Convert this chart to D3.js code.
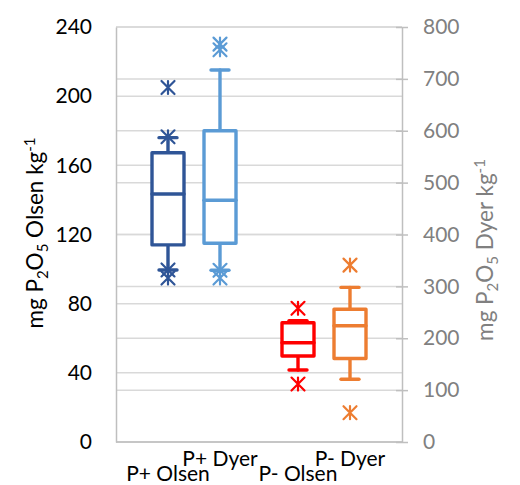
<!DOCTYPE html>
<html>
<head>
<meta charset="utf-8">
<script src="https://cdn.jsdelivr.net/npm/d3@7"></script>
<style>
  html, body { margin:0; padding:0; background:#fff; }
  svg text { font-family: Lato, "Open Sans", sans-serif; }
</style>
</head>
<body>
<svg id="chart" width="520" height="485"></svg>
<script>
// ───── DATA ─────
const groups = ["P+", "P-"];
const methods = ["Olsen", "Dyer"];
const categories = ["P+ Olsen", "P+ Dyer", "P- Olsen", "P- Dyer"];
const axisOf = ["left", "right", "left", "right"];
const q1 = [114, 383, 49.7, 161];
const median = [143.4, 466, 57.4, 224];
const q3 = [167.3, 600, 69, 256];
const whiskerLow = [99.5, 331, 41.6, 121];
const whiskerHigh = [176, 717, 70.2, 298];
const outliers = [
  [205, 176.5, 99.5, 94.8],
  [767, 756, 331, 316],
  [77.3, 33.5],
  [341, 56.5]
];
const leftTicks = [0, 40, 80, 120, 160, 200, 240];
const rightTicks = [0, 100, 200, 300, 400, 500, 600, 700, 800];

const COLOR = ["#2f5597", "#5b9bd5", "#ff0000", "#ed7d31"];

const plot = { left:116, right:402, top:27, bottom:442 };

const svg = d3.select("#chart");

const yL = d3.scaleLinear().domain([0, 240]).range([plot.bottom, plot.top]);
const yR = d3.scaleLinear().domain([0, 800]).range([plot.bottom, plot.top]);

const xGroup = d3.scaleBand()
  .domain(groups)
  .range([plot.left, plot.right])
  .paddingInner(0.2)
  .paddingOuter(0.2);

const xMethod = d3.scaleBand()
  .domain(methods)
  .range([0, xGroup.bandwidth()]);

const cx = i => {
  const [grp, m] = categories[i].split(" ");
  return xGroup(grp) + xMethod(m) + xMethod.bandwidth() / 2;
};

// ───── GRID ─────
const grid = svg.append("g");
grid.selectAll(".gl")
  .data(leftTicks)
  .join("line")
  .attr("x1", plot.left).attr("x2", plot.right)
  .attr("y1", d => yL(d)).attr("y2", d => yL(d))
  .attr("stroke", "#d9d9d9").attr("stroke-width", 1.5);
grid.selectAll(".gr")
  .data(rightTicks)
  .join("line")
  .attr("x1", plot.left).attr("x2", plot.right)
  .attr("y1", d => yR(d)).attr("y2", d => yR(d))
  .attr("stroke", "#d9d9d9").attr("stroke-width", 1.5);

// ───── AXES ─────
const axisLeft = svg.append("g")
  .attr("transform", `translate(${plot.left},0)`)
  .call(d3.axisLeft(yL).tickValues(leftTicks).tickSize(0).tickPadding(24));
axisLeft.select(".domain").attr("stroke", "#bfbfbf").attr("stroke-width", 1.5);
axisLeft.selectAll("text")
  .attr("font-size", 21).attr("fill", "#000")
  .attr("font-family", "Lato, sans-serif");

const axisRight = svg.append("g")
  .attr("transform", `translate(${plot.right},0)`)
  .call(d3.axisRight(yR).tickValues(rightTicks).tickSizeInner(6).tickSizeOuter(0).tickPadding(15));
axisRight.select(".domain").attr("stroke", "#bfbfbf").attr("stroke-width", 1.5);
axisRight.selectAll(".tick line")
  .attr("x1", -6).attr("stroke", "#bfbfbf").attr("stroke-width", 1.5);
axisRight.selectAll("text")
  .attr("font-size", 21).attr("fill", "#808080")
  .attr("font-family", "Lato, sans-serif");

svg.append("line")
  .attr("x1", plot.left).attr("x2", plot.right)
  .attr("y1", plot.bottom).attr("y2", plot.bottom)
  .attr("stroke", "#bfbfbf").attr("stroke-width", 1.5);

// ───── AXIS TITLES ─────
function axisTitle(x, y, method, fill) {
  const t = svg.append("text")
    .attr("transform", `translate(${x},${y}) rotate(-90)`)
    .attr("text-anchor", "middle")
    .attr("font-size", 22.5)
    .attr("fill", fill);
  t.append("tspan").text("mg P");
  t.append("tspan").attr("font-size", 15).attr("dy", 5).text("2");
  t.append("tspan").attr("dy", -5).text("O");
  t.append("tspan").attr("font-size", 15).attr("dy", 5).text("5");
  t.append("tspan").attr("dy", -5).text(` ${method} kg`);
  t.append("tspan").attr("font-size", 15).attr("dy", -8).text("-1");
}
axisTitle(43, 233, "Olsen", "#000");
axisTitle(493, 250, "Dyer", "#808080");

// ───── BOXES ─────
const boxW = 32, capW = 18, star = 6.5;

categories.forEach((c, i) => {
  const y = axisOf[i] === "left" ? yL : yR;
  const x = cx(i);
  const g = svg.append("g")
    .attr("stroke", COLOR[i])
    .attr("stroke-width", 3.4)
    .attr("fill", "none")
    .attr("stroke-linecap", "round");

  // whiskers
  g.append("line").attr("x1", x).attr("x2", x)
    .attr("y1", y(q3[i])).attr("y2", y(whiskerHigh[i]));
  g.append("line").attr("x1", x).attr("x2", x)
    .attr("y1", y(q1[i])).attr("y2", y(whiskerLow[i]));
  [whiskerHigh[i], whiskerLow[i]].forEach(v => {
    g.append("line")
      .attr("x1", x - capW / 2).attr("x2", x + capW / 2)
      .attr("y1", y(v)).attr("y2", y(v));
  });

  // box
  g.append("rect")
    .attr("x", x - boxW / 2).attr("width", boxW)
    .attr("y", y(q3[i])).attr("height", y(q1[i]) - y(q3[i]))
    .attr("fill", "#fff")
    .attr("stroke-linejoin", "round");
  g.append("line")
    .attr("x1", x - boxW / 2).attr("x2", x + boxW / 2)
    .attr("y1", y(median[i])).attr("y2", y(median[i]));

  // outlier stars
  g.selectAll(".star")
    .data(outliers[i])
    .join("path")
    .attr("stroke-width", 2.2)
    .attr("d", v => {
      const py = y(v);
      const s = star;
      return `M${x - s},${py - s}L${x + s},${py + s}` +
             `M${x - s},${py + s}L${x + s},${py - s}` +
             `M${x},${py - s}L${x},${py + s}`;
    });
});

// ───── CATEGORY LABELS ─────
svg.selectAll(".cat")
  .data(categories)
  .join("text")
  .attr("x", (d, i) => cx(i))
  .attr("y", (d, i) => i % 2 === 0 ? 481 : 466)
  .attr("text-anchor", "middle")
  .attr("font-size", 21)
  .attr("fill", "#000")
  .text(d => d);
</script>
</body>
</html>
